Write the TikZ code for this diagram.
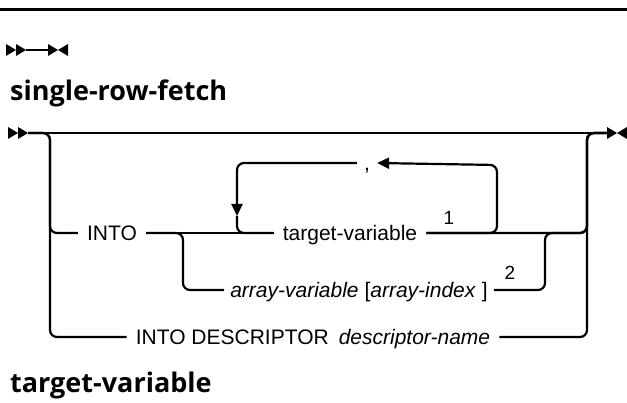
\documentclass[tikz,border=0pt]{standalone}
\usepackage{fontspec}
\setmainfont{Liberation Sans}
\newfontfamily\headfont{Open Sans}
\usetikzlibrary{arrows.meta}

\begin{document}
\begin{tikzpicture}[x=1pt, y=-1pt,
  rail/.style={line width=2.2pt, rounded corners=7pt},
  loopback/.style={-{Triangle[length=12pt, width=11pt]}},
  kw/.style={font=\fontsize{21}{24}\selectfont, inner xsep=9pt, inner ysep=0pt,
    text height=15pt, text depth=0pt},
  note/.style={font=\fontsize{19}{22}\selectfont, inner sep=0pt},
  head/.style={font=\headfont\fontsize{27}{31}\selectfont\bfseries, inner sep=0pt,
    anchor=base west},
  pics/railstart/.style={code={\fill (-20,-6) -- (-10,0) -- (-20,6) -- cycle
    (-10,-6) -- (0,0) -- (-10,6) -- cycle;}},
  pics/railend/.style={code={\fill (0,-6) -- (10,0) -- (0,6) -- cycle
    (20,-6) -- (10,0) -- (20,6) -- cycle;}}]
  \useasboundingbox (0,0) rectangle (627,403);
  \draw[line width=3pt] (0,10) -- (627,10);

  % empty rail
  \coordinate (mstart) at (26,50);
  \coordinate (mend) at (48,50);
  \pic at (mstart) {railstart};
  \pic at (mend) {railend};
  \draw[rail] (mstart) -- (mend);

  \node[head] (hfetch) at (10,101) {single-row-fetch};

  % junctions
  \coordinate (start) at (28,133);
  \coordinate (finish) at (607,133);
  \coordinate (lft) at (50,133);
  \coordinate (rgt) at (587,133);
  \coordinate (isplit) at (183,233);
  \coordinate (irgt) at (545,233);
  \coordinate (lptop) at (497,165);
  \coordinate (lpdown) at (237,216);

  \node[kw] (into) at (112,233) {INTO};
  \node[kw] (tvar) at (350,233) {target-variable};
  \node[note] (sup1) at (449,218) {1};
  \node[kw, inner xsep=7pt] (comma) at (367,163) {,};
  \node[kw, inner xsep=6pt] (arr) at (359,290)
    {\textit{array-variable} [\textit{array-index} ]};
  \node[note] (sup2) at (510,273) {2};
  \node[kw] (desc) at (313,337)
    {INTO DESCRIPTOR\hspace{10pt}\textit{descriptor-name}};

  \pic at (start) {railstart};
  \pic at (finish) {railend};
  \draw[rail] (start) -- (finish);
  \draw[rail] (start) -- (lft) |- (into.west);
  \draw[rail] (start) -- (lft) |- (desc.west);
  \draw[rail] (into.east) -- (tvar.west);
  \draw[rail] (into.east) -- (isplit) |- (arr.west);
  \draw[rail] (tvar.east) -| (rgt) -- (finish);
  \draw[rail] (arr.east) -| (irgt) -| (rgt) -- (finish);
  \draw[rail] (desc.east) -| (rgt) -- (finish);

  % repeat loop
  \draw[rail, loopback] (tvar.east) -| (lptop) -- (comma.east);
  \draw[rail, loopback] (comma.west) -| (lpdown);
  \draw[rail] (lpdown) |- (tvar.west);

  \node[head] (htvar) at (10,393) {target-variable};
\end{tikzpicture}
\end{document}
